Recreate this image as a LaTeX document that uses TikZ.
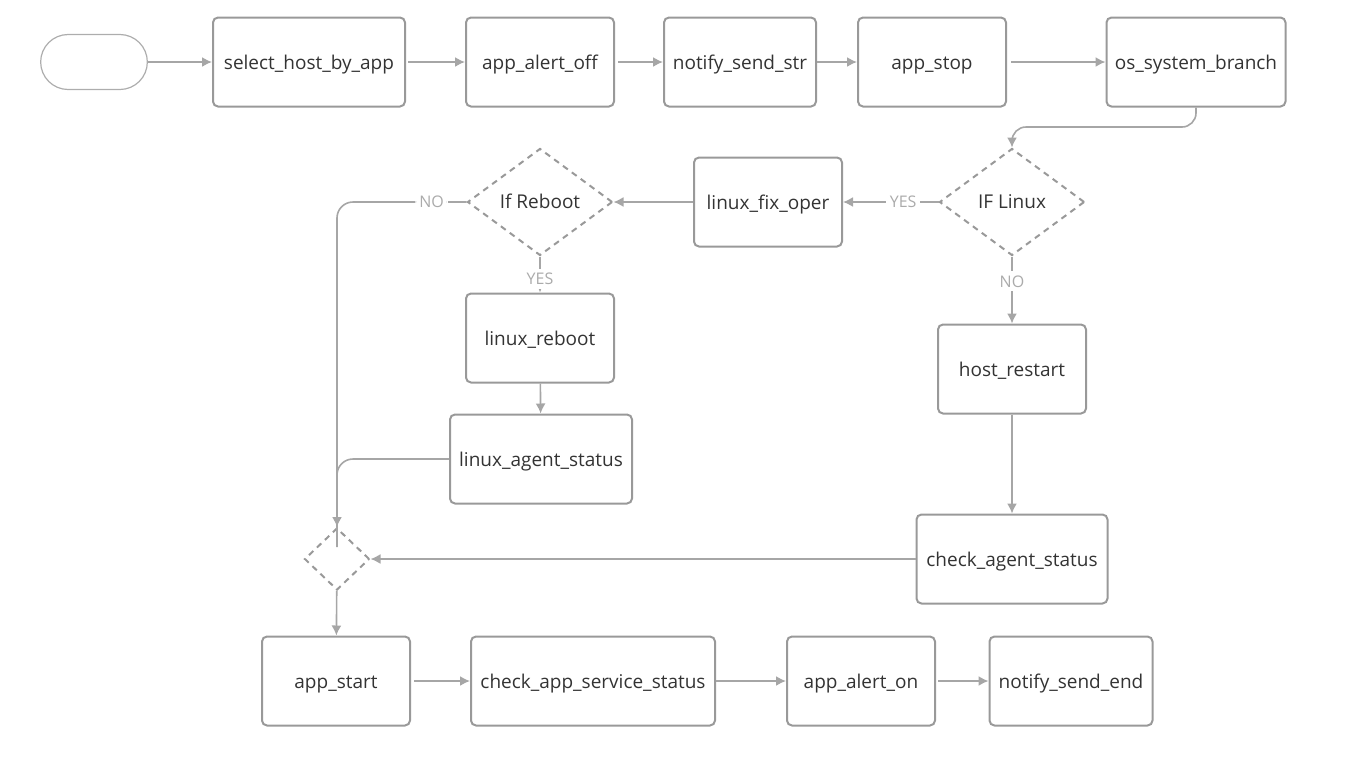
\documentclass[tikz,border=0pt]{standalone}
\usepackage{fontspec}
\setmainfont{Open Sans}
\usetikzlibrary{arrows.meta,shapes.geometric,shapes.misc}

\definecolor{edgegray}{HTML}{A6A6A6}
\definecolor{boxgray}{HTML}{999999}
\definecolor{txtgray}{HTML}{333333}
\definecolor{lblgray}{HTML}{ABABAB}

\begin{document}
\begin{tikzpicture}[x=.5pt, y=-.5pt, font=\fontsize{9.5}{11}\selectfont,
    >={Latex[length=5pt,width=5pt]},
    task/.style={draw=boxgray, line width=1pt, rounded corners=2.5pt, text=txtgray,
      minimum height=44.5pt, inner sep=2pt, text height=10pt, text depth=2.5pt},
    cond/.style={diamond, draw=boxgray, dashed, dash pattern=on 3pt off 2.5pt,
      line width=1pt, text=txtgray, inner sep=0pt, minimum width=72.5pt,
      minimum height=53.5pt, aspect=1.36, text height=9pt, text depth=2.5pt},
    flow/.style={draw=edgegray, line width=.8pt, ->},
    lbl/.style={fill=white, text=lblgray, font=\fontsize{8}{9}\selectfont, inner sep=2pt}]
    \useasboundingbox (0,0) rectangle (1356,772);
    % top row
    \node[rounded rectangle, draw=boxgray!80, line width=.6pt, minimum width=60pt,
      minimum height=27.5pt] (start) at (94,62) {};
    \node[task, minimum width=96pt] (selhost) at (309,62) {select\_host\_by\_app};
    \node[task, minimum width=74pt] (alertoff) at (540,62) {app\_alert\_off};
    \node[task, minimum width=76pt] (notstr) at (740,62) {notify\_send\_str};
    \node[task, minimum width=74pt] (appstop) at (932,62) {app\_stop};
    \node[task, minimum width=89.5pt] (osbranch) at (1196,62) {os\_system\_branch};
    % branches
    \node[cond] (iflinux) at (1012,202) {IF Linux};
    \node[task, minimum width=74pt] (fixoper) at (768,202) {linux\_fix\_oper};
    \node[cond] (ifreboot) at (540,202) {If Reboot};
    \node[task, minimum width=74pt] (reboot) at (540,338) {linux\_reboot};
    \node[task, minimum width=91pt] (lnxagent) at (541,459) {linux\_agent\_status};
    \node[task, minimum width=74pt] (restart) at (1012,369) {host\_restart};
    \node[task, minimum width=95.5pt] (chkagent) at (1012,559) {check\_agent\_status};
    \node[cond, minimum width=32.5pt, minimum height=31pt, aspect=1.05] (merge) at (337,559) {};
    % bottom row
    \node[task, minimum width=74pt] (appstart) at (336,681) {app\_start};
    \node[task, minimum width=122pt] (chksvc) at (593,681) {check\_app\_service\_status};
    \node[task, minimum width=74pt] (alerton) at (861,681) {app\_alert\_on};
    \node[task, minimum width=81.5pt] (notend) at (1071,681) {notify\_send\_end};
    \coordinate (osbend) at (1012,127);

    \draw[flow] (start) -- (selhost);
    \draw[flow] (selhost.east) ++(2,0) -- (alertoff);
    \draw[flow] (alertoff.east) ++(3,0) -- (notstr);
    \draw[flow] (notstr) -- (appstop);
    \draw[flow] (appstop.east) ++(4,0) -- (osbranch);
    \draw[flow, rounded corners=7pt] (osbranch.south) |- (osbend) -- (iflinux.north);
    \draw[flow] (iflinux.west) -- node[lbl, pos=.37] {YES} (fixoper.east);
    \draw[flow] (iflinux.south) -- node[lbl, pos=.37] {NO} (restart.north);
    \draw[flow] (fixoper) -- (ifreboot);
    \draw[flow] (ifreboot.south) -- node[lbl, pos=.62] {YES} (reboot.north);
    \draw[flow, rounded corners=8pt] (ifreboot.west) -- node[lbl, pos=.27] {NO}
      (merge.north |- ifreboot.west) -- (merge.north);
    \draw[draw=edgegray, line width=.8pt, rounded corners=8pt] (lnxagent.west)
      -- (merge.north |- lnxagent.west) -- ([yshift=-10pt]merge.north);
    \draw[flow] (reboot) -- (lnxagent);
    \draw[flow] (restart) -- (chkagent);
    \draw[flow] (chkagent) -- (merge);
    \draw[flow] (merge) -- (appstart);
    \draw[flow] (appstart.east) ++(3,0) -- (chksvc);
    \draw[flow] (chksvc) -- (alerton);
    \draw[flow] (alerton.east) ++(2,0) -- (notend);
\end{tikzpicture}
\end{document}
